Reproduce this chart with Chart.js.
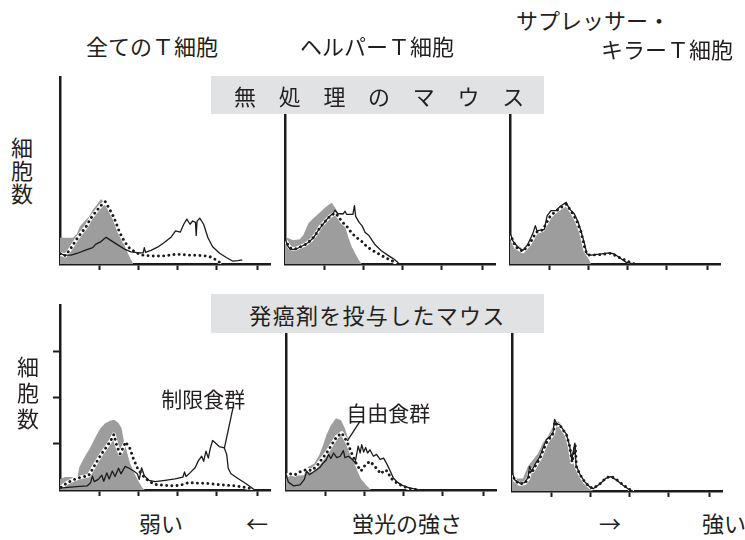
<!DOCTYPE html>
<html lang="ja">
<head>
<meta charset="utf-8">
<script src="https://cdn.jsdelivr.net/npm/chart.js@4.4.1/dist/chart.umd.min.js"></script>
<style>
  html, body { margin: 0; padding: 0; background: #fff; }
  body {
    width: 745px; height: 540px; position: relative; overflow: hidden;
    font-family: "Noto Sans CJK JP", "Noto Sans", sans-serif; color: #231f20;
  }
  .lbl { position: absolute; white-space: nowrap; font-size: 22px; line-height: 22px; z-index: 3; }
  .vlbl { position: absolute; writing-mode: vertical-rl; font-size: 22px; line-height: 22px; z-index: 3; }
  .banner {
    position: absolute; left: 211px; width: 333px; background: #e1e2e4;
    font-size: 22px; white-space: nowrap; z-index: 2;
  }
  .note { position: absolute; white-space: nowrap; font-size: 21px; line-height: 21px;
          transform: translate(-50%, -50%); z-index: 3; }
  canvas { position: absolute; z-index: 1; }
</style>
</head>
<body>
  <!-- column headings -->
  <div class="lbl" style="left:86px; top:34px;">全てのＴ細胞</div>
  <div class="lbl" style="left:300px; top:34px;">ヘルパーＴ細胞</div>
  <div class="lbl" style="left:516px; top:8px;">サプレッサー・</div>
  <div class="lbl" style="left:601px; top:37px;">キラーＴ細胞</div>

  <!-- row banners -->
  <div class="banner" style="top:76px; height:38px; line-height:38px; padding-left:23px; width:310px; letter-spacing:22.7px;">無処理のマウス</div>
  <div class="banner" style="top:294px; height:39px; line-height:41px; text-align:center; letter-spacing:1.3px;">発癌剤を投与したマウス</div>

  <!-- y-axis captions -->
  <div class="vlbl" style="left:11px; top:137px; letter-spacing:1px;">細胞数</div>
  <div class="vlbl" style="left:17px; top:356px; letter-spacing:4px;">細胞数</div>

  <!-- fluorescence axis caption -->
  <div class="lbl" style="left:139px; top:511px;">弱い</div>
  <div class="lbl" style="left:246px; top:511px;">←</div>
  <div class="lbl" style="left:352px; top:511px;">蛍光の強さ</div>
  <div class="lbl" style="left:599px; top:511px;">→</div>
  <div class="lbl" style="left:702px; top:511px;">強い</div>

<script>
// Fluorescence in log decades (x) against relative cell count (y).
const decadeTicks = [1, 2, 3, 4, 5.07];
const countTicks = [1, 2, 3];
const X_MAX = 5.38;
const Y_MAX = 4;

// ---- untreated mice: all T cells ----
const allUntreatedGray = [[0,0.56],[0.33,0.56],[0.43,0.64],[0.51,0.80],[0.62,0.91],[0.74,1.01],[0.84,1.16],[0.94,1.26],[1.05,1.39],[1.16,1.30],[1.26,1.12],[1.39,0.91],[1.52,0.69],[1.61,0.49],[1.72,0.26],[1.82,0.09],[1.88,0]];
const allUntreatedSolid = [[0,0.23],[0.11,0.19],[0.28,0.19],[0.45,0.23],[0.67,0.30],[0.84,0.35],[0.91,0.42],[1.05,0.48],[1.18,0.57],[1.31,0.50],[1.48,0.41],[1.65,0.32],[1.82,0.26],[2.03,0.24],[2.13,0.24],[2.16,0.35],[2.19,0.25],[2.33,0.29],[2.50,0.36],[2.67,0.46],[2.85,0.58],[2.96,0.71],[3.08,0.68],[3.17,0.85],[3.25,0.96],[3.33,0.85],[3.40,0.92],[3.47,0.89],[3.49,0.61],[3.51,0.91],[3.58,0.98],[3.68,0.85],[3.79,0.56],[3.91,0.37],[4.09,0.23],[4.26,0.14],[4.43,0.06],[4.56,0.07],[4.67,0.09]];
const allUntreatedDotted = [[0,0.22],[0.14,0.18],[0.28,0.34],[0.41,0.51],[0.54,0.66],[0.67,0.80],[0.79,0.98],[0.92,1.12],[1.05,1.25],[1.16,1.33],[1.26,1.19],[1.39,0.98],[1.52,0.69],[1.65,0.48],[1.78,0.34],[1.95,0.24],[2.12,0.19],[2.38,0.17],[2.63,0.17],[2.80,0.19],[2.97,0.21],[3.32,0.19],[3.66,0.18],[3.83,0.16],[4.00,0.09],[4.13,0.01]];

// ---- untreated mice: helper T cells ----
const helperUntreatedGray = [[0,0.58],[0.09,0.55],[0.21,0.51],[0.38,0.53],[0.47,0.62],[0.60,0.87],[0.73,0.98],[0.85,1.07],[0.98,1.17],[1.11,1.26],[1.20,1.31],[1.30,1.18],[1.41,1.00],[1.54,0.81],[1.62,0.58],[1.71,0.37],[1.82,0.19],[1.92,0.05],[1.97,0]];
const helperUntreatedSolid = [[0,0.59],[0.05,0.41],[0.13,0.32],[0.26,0.31],[0.43,0.38],[0.60,0.46],[0.73,0.56],[0.85,0.72],[0.94,0.81],[1.03,0.91],[1.13,1.01],[1.24,1.09],[1.28,1.15],[1.35,1.08],[1.49,1.07],[1.54,1.13],[1.58,1.06],[1.74,1.06],[1.78,1.25],[1.81,1.02],[1.90,0.89],[1.98,0.81],[2.05,0.68],[2.15,0.61],[2.22,0.52],[2.31,0.41],[2.46,0.29],[2.63,0.19],[2.78,0.11],[2.91,0.02]];
const helperUntreatedDotted = [[0,0.52],[0.13,0.34],[0.26,0.32],[0.51,0.41],[0.68,0.52],[0.81,0.66],[0.90,0.79],[1.03,0.91],[1.15,1.02],[1.28,1.09],[1.37,1.02],[1.45,0.91],[1.58,0.81],[1.71,0.66],[1.84,0.56],[1.97,0.48],[2.09,0.38],[2.22,0.30],[2.35,0.24],[2.52,0.16],[2.69,0.09],[2.86,0.02]];

// ---- untreated mice: suppressor / killer T cells ----
const killerUntreatedGray = [[0,0.50],[0.15,0.43],[0.33,0.32],[0.50,0.50],[0.62,0.64],[0.79,0.73],[0.92,0.80],[1.01,1.00],[1.14,1.11],[1.26,1.18],[1.41,1.25],[1.50,1.20],[1.61,1.00],[1.74,0.79],[1.85,0.50],[1.95,0.21],[2.08,0]];
const killerUntreatedSolid = [[0,0.68],[0.07,0.50],[0.20,0.36],[0.33,0.29],[0.45,0.41],[0.58,0.64],[0.65,0.82],[0.69,0.71],[0.88,0.74],[0.95,1.03],[1.05,1.14],[1.18,1.14],[1.28,1.23],[1.44,1.32],[1.52,1.18],[1.65,1.07],[1.74,0.91],[1.82,0.70],[1.91,0.43],[1.97,0.21],[2.08,0.19],[2.29,0.21],[2.55,0.24],[2.68,0.21],[2.82,0.13],[2.97,0.04],[3.15,0]];
const killerUntreatedDotted = [[0,0.64],[0.15,0.36],[0.33,0.27],[0.50,0.43],[0.67,0.68],[0.84,0.73],[1.01,1.00],[1.14,1.11],[1.31,1.21],[1.44,1.28],[1.56,1.14],[1.69,0.96],[1.82,0.68],[1.93,0.29],[2.00,0.19],[2.29,0.20],[2.59,0.23],[2.80,0.14],[3.06,0.04],[3.19,0]];

// ---- carcinogen-treated mice: all T cells ----
const allTreatedGray = [[0,0.24],[0.13,0.28],[0.30,0.28],[0.44,0.24],[0.49,0.48],[0.54,0.57],[0.64,0.73],[0.77,0.91],[0.90,1.13],[1.03,1.33],[1.15,1.44],[1.28,1.50],[1.39,1.52],[1.50,1.45],[1.58,1.33],[1.63,1.09],[1.71,0.84],[1.79,0.59],[1.90,0.37],[2.01,0.19],[2.11,0.05],[2.18,0]];
const allTreatedSolid = [[0,0.04],[0.26,0.06],[0.51,0.08],[0.70,0.09],[0.78,0.15],[0.83,0.30],[0.88,0.18],[0.98,0.23],[1.07,0.32],[1.12,0.19],[1.20,0.37],[1.26,0.24],[1.34,0.41],[1.41,0.29],[1.50,0.47],[1.56,0.35],[1.67,0.51],[1.77,0.47],[1.89,0.41],[1.98,0.35],[2.03,0.23],[2.09,0.48],[2.16,0.31],[2.28,0.21],[2.44,0.18],[2.69,0.21],[2.95,0.24],[3.15,0.28],[3.19,0.39],[3.23,0.29],[3.33,0.37],[3.46,0.48],[3.55,0.64],[3.63,0.73],[3.68,0.62],[3.74,0.84],[3.80,0.69],[3.85,0.90],[3.91,1.07],[3.99,1.01],[4.08,0.94],[4.21,0.91],[4.27,0.77],[4.31,0.47],[4.38,0.35],[4.56,0.25],[4.76,0.14],[4.97,0.01]];
const allTreatedDotted = [[0.03,0.06],[0.17,0.15],[0.34,0.22],[0.51,0.27],[0.73,0.31],[0.81,0.42],[0.94,0.61],[1.07,0.79],[1.20,0.94],[1.30,1.07],[1.38,1.20],[1.45,0.97],[1.54,0.78],[1.62,0.92],[1.68,1.04],[1.79,0.90],[1.88,0.68],[1.98,0.48],[2.11,0.32],[2.26,0.20],[2.44,0.12],[2.69,0.10],[2.95,0.09],[3.16,0.12],[3.29,0.16],[3.50,0.15],[3.80,0.14],[4.15,0.11],[4.49,0.09],[4.79,0.05],[4.96,0.01]];

// ---- carcinogen-treated mice: helper T cells ----
const helperTreatedGray = [[0,0.32],[0.21,0.31],[0.46,0.32],[0.56,0.50],[0.72,0.57],[0.85,0.75],[0.95,0.97],[1.03,1.18],[1.15,1.40],[1.28,1.55],[1.41,1.51],[1.51,1.33],[1.59,1.12],[1.67,0.90],[1.75,0.60],[1.82,0.43],[1.92,0.24],[2.05,0.11],[2.18,0]];
const helperTreatedSolid = [[0,0.34],[0.06,0.17],[0.19,0.09],[0.36,0.11],[0.47,0.23],[0.53,0.41],[0.60,0.33],[0.70,0.39],[0.79,0.44],[0.87,0.49],[0.96,0.59],[1.03,0.65],[1.09,0.77],[1.15,0.68],[1.22,0.80],[1.30,0.70],[1.39,0.73],[1.47,0.85],[1.51,0.70],[1.60,0.73],[1.70,0.66],[1.77,0.59],[1.81,0.77],[1.85,0.95],[1.90,0.80],[1.94,0.98],[1.99,0.82],[2.04,0.92],[2.09,0.80],[2.15,0.87],[2.24,0.73],[2.32,0.77],[2.41,0.66],[2.50,0.69],[2.58,0.57],[2.67,0.41],[2.75,0.26],[2.85,0.17],[2.98,0.10],[3.18,0.04],[3.39,0.01]];
const helperTreatedDotted = [[0,0.30],[0.10,0.35],[0.23,0.33],[0.40,0.41],[0.53,0.44],[0.66,0.42],[0.79,0.52],[0.91,0.66],[1.04,0.80],[1.17,0.98],[1.30,1.15],[1.43,1.23],[1.56,1.05],[1.68,0.80],[1.81,0.55],[1.92,0.41],[2.03,0.54],[2.15,0.62],[2.26,0.53],[2.37,0.41],[2.44,0.35],[2.51,0.43],[2.60,0.41],[2.68,0.26],[2.81,0.17],[2.97,0.09],[3.18,0.03],[3.39,0]];

// ---- carcinogen-treated mice: suppressor / killer T cells ----
const killerTreatedGray = [[0,0.31],[0.11,0.27],[0.28,0.27],[0.41,0.53],[0.54,0.67],[0.67,0.81],[0.79,1.03],[0.92,1.17],[1.05,1.39],[1.18,1.50],[1.26,1.44],[1.35,1.25],[1.44,1.03],[1.52,0.80],[1.61,0.53],[1.74,0.31],[1.86,0.17],[1.99,0.06],[2.08,0]];
const killerTreatedSolid = [[0,0.42],[0.07,0.24],[0.20,0.17],[0.32,0.18],[0.41,0.29],[0.45,0.53],[0.50,0.42],[0.58,0.56],[0.71,0.74],[0.79,0.92],[0.88,1.10],[0.97,1.17],[1.05,1.26],[1.09,1.54],[1.14,1.45],[1.22,1.43],[1.31,1.32],[1.39,1.23],[1.48,0.96],[1.53,0.67],[1.58,0.89],[1.61,1.03],[1.64,0.56],[1.74,0.36],[1.86,0.20],[1.99,0.09],[2.08,0.05],[2.25,0.15],[2.40,0.27],[2.53,0.31],[2.67,0.24],[2.85,0.12],[3.02,0.02],[3.10,0]];
const killerTreatedDotted = [[0,0.38],[0.08,0.22],[0.20,0.15],[0.33,0.17],[0.42,0.27],[0.47,0.45],[0.53,0.43],[0.60,0.54],[0.72,0.71],[0.80,0.88],[0.90,1.07],[0.98,1.15],[1.06,1.24],[1.10,1.49],[1.15,1.43],[1.23,1.41],[1.32,1.30],[1.40,1.20],[1.48,0.95],[1.54,0.62],[1.59,0.85],[1.62,1.00],[1.65,0.52],[1.75,0.34],[1.87,0.19],[2.00,0.08],[2.09,0.06],[2.26,0.16],[2.41,0.28],[2.53,0.32],[2.67,0.25],[2.86,0.12],[3.04,0.02],[3.12,0]];

// Callout labels naming the diet groups (text position, leader start, leader tip).
const restrictedDietNote = { text: '制限食群', at: [3.67, 1.99], from: [4.43, 1.77], to: [4.21, 0.90] };
const freeDietNote = { text: '自由食群', at: [2.62, 1.68], from: [1.90, 1.49], to: [1.57, 1.06] };

const INK = '#1b1b1b';
const FILL = '#9d9d9d';

// Plot boxes in page pixels.
const panels = [
  { box: { left: 60,  top: 77,  right: 270, bottom: 264 }, gray: allUntreatedGray,    solid: allUntreatedSolid,    dotted: allUntreatedDotted },
  { box: { left: 285, top: 77,  right: 495, bottom: 264 }, gray: helperUntreatedGray, solid: helperUntreatedSolid, dotted: helperUntreatedDotted },
  { box: { left: 510, top: 77,  right: 720, bottom: 264 }, gray: killerUntreatedGray, solid: killerUntreatedSolid, dotted: killerUntreatedDotted },
  { box: { left: 60,  top: 305, right: 270, bottom: 490 }, gray: allTreatedGray,      solid: allTreatedSolid,      dotted: allTreatedDotted, yTicks: true, note: restrictedDietNote },
  { box: { left: 286, top: 305, right: 496, bottom: 490 }, gray: helperTreatedGray,   solid: helperTreatedSolid,   dotted: helperTreatedDotted, note: freeDietNote },
  { box: { left: 512, top: 305, right: 722, bottom: 491 }, gray: killerTreatedGray,   solid: killerTreatedSolid,   dotted: killerTreatedDotted }
];

// Draws a leader line and places an HTML label at data coordinates.
const calloutPlugin = {
  id: 'callout',
  afterDraw(chart, args, opts) {
    if (!opts || !opts.text) return;
    const xs = chart.scales.x, ys = chart.scales.y, ctx = chart.ctx;
    ctx.save();
    ctx.strokeStyle = INK;
    ctx.lineWidth = 1.3;
    ctx.beginPath();
    ctx.moveTo(xs.getPixelForValue(opts.from[0]), ys.getPixelForValue(opts.from[1]));
    ctx.lineTo(xs.getPixelForValue(opts.to[0]), ys.getPixelForValue(opts.to[1]));
    ctx.stroke();
    ctx.restore();
    if (!chart.$noteEl) {
      chart.$noteEl = document.createElement('div');
      chart.$noteEl.className = 'note';
      chart.$noteEl.textContent = opts.text;
      document.body.appendChild(chart.$noteEl);
    }
    const cv = chart.canvas;
    chart.$noteEl.style.left = (cv.offsetLeft + xs.getPixelForValue(opts.at[0])) + 'px';
    chart.$noteEl.style.top = (cv.offsetTop + ys.getPixelForValue(opts.at[1])) + 'px';
  }
};

function makePanel(p) {
  const yTickLen = p.yTicks ? 7 : 0;
  const xTickLen = 6;
  const pad = { left: 12, top: 4, right: 8, bottom: 4 };
  const w = p.box.right - p.box.left + pad.left + yTickLen + pad.right;
  const h = p.box.bottom - p.box.top + pad.top + xTickLen + pad.bottom;
  const cv = document.createElement('canvas');
  cv.width = w; cv.height = h;
  cv.style.width = w + 'px'; cv.style.height = h + 'px';
  cv.style.left = (p.box.left - pad.left - yTickLen) + 'px';
  cv.style.top = (p.box.top - pad.top) + 'px';
  document.body.appendChild(cv);

  new Chart(cv, {
    type: 'line',
    data: {
      datasets: [
        { data: p.dotted, borderColor: INK, borderWidth: 2.9, borderDash: [0.01, 5.2], borderCapStyle: 'round', fill: false, order: 0 },
        { data: p.solid, borderColor: INK, borderWidth: 1.3, fill: false, order: 1 },
        { data: p.dotted, borderColor: '#ffffff', borderWidth: 3.8, fill: false, order: 2 },
        { data: p.gray, borderColor: 'rgba(0,0,0,0)', borderWidth: 0, backgroundColor: FILL, fill: 'origin', order: 3 }
      ]
    },
    options: {
      responsive: false,
      animation: false,
      devicePixelRatio: 1,
      layout: { padding: pad },
      elements: { point: { radius: 0 }, line: { tension: 0, borderJoinStyle: 'round' } },
      plugins: {
        legend: { display: false },
        tooltip: { enabled: false },
        callout: p.note || {}
      },
      scales: {
        x: {
          type: 'linear', min: 0, max: X_MAX,
          afterBuildTicks: s => { s.ticks = decadeTicks.map(v => ({ value: v })); },
          ticks: { display: false },
          grid: { drawOnChartArea: false, drawTicks: true, tickLength: xTickLen, tickWidth: 2, tickColor: INK, color: INK },
          border: { display: true, width: 2.5, color: INK }
        },
        y: {
          type: 'linear', min: 0, max: Y_MAX,
          afterBuildTicks: s => { s.ticks = p.yTicks ? countTicks.map(v => ({ value: v })) : []; },
          ticks: { display: false },
          grid: { drawOnChartArea: false, drawTicks: !!p.yTicks, tickLength: yTickLen, tickWidth: 2, tickColor: INK, color: INK },
          border: { display: true, width: 2.5, color: INK }
        }
      }
    },
    plugins: [calloutPlugin]
  });
}

panels.forEach(makePanel);
</script>
</body>
</html>
